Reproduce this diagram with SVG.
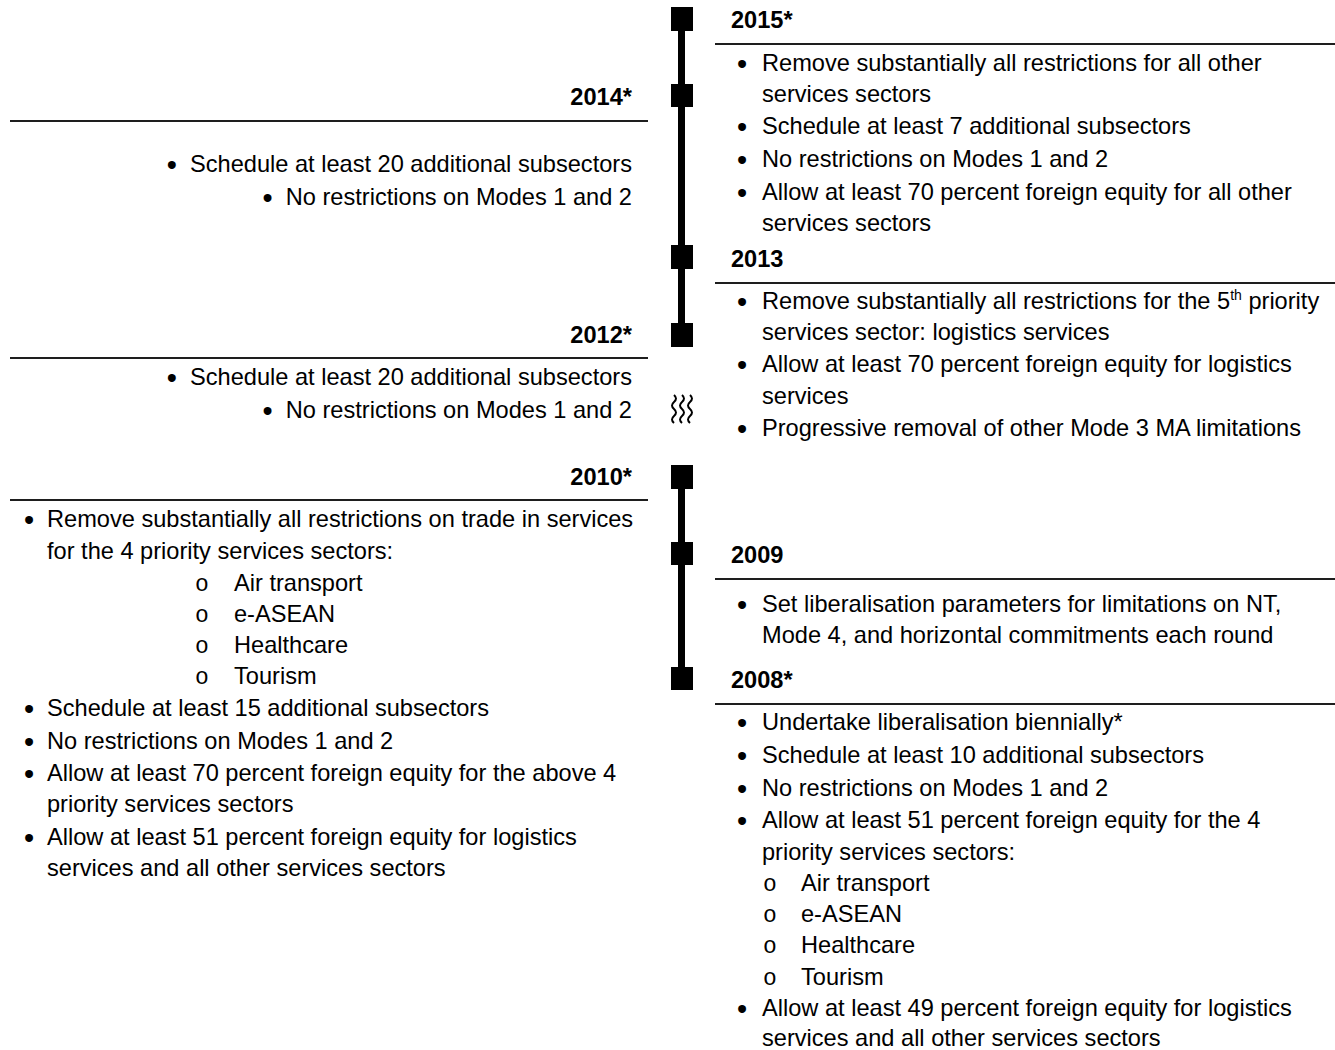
<svg xmlns="http://www.w3.org/2000/svg" width="1335" height="1050" viewBox="0 0 1335 1050">
<style>
.t{font-family:"Liberation Sans",Arial,sans-serif;font-size:23.6px;fill:#000}
.b{font-size:29px}
.y{font-weight:bold}
.e{text-anchor:end}
.o{font-family:"Liberation Mono","Courier New",monospace;font-size:23px;fill:#000}
.rule{stroke:#1e1e1e;stroke-width:2}
.sq{fill:#000}
.bar{stroke:#000;stroke-width:7}
.wave{fill:none;stroke:#000;stroke-width:2}
</style>
<rect width="1335" height="1050" fill="#fff"/>
<g id="connectors">
<line class="bar" x1="681.5" y1="19" x2="681.5" y2="335"/>
<line class="bar" x1="681.5" y1="477" x2="681.5" y2="679"/>
<path class="wave" d="M674,395 q4,3.5 0,7 q-4,3.5 0,7 q4,3.5 0,7 q-4,3.5 0,7"/>
<path class="wave" d="M682,395 q4,3.5 0,7 q-4,3.5 0,7 q4,3.5 0,7 q-4,3.5 0,7"/>
<path class="wave" d="M690,395 q4,3.5 0,7 q-4,3.5 0,7 q4,3.5 0,7 q-4,3.5 0,7"/>
</g>
<g id="markers">
<rect class="sq" x="671" y="7" width="22" height="24"/>
<rect class="sq" x="671" y="84" width="22" height="23"/>
<rect class="sq" x="671" y="245" width="22" height="24"/>
<rect class="sq" x="671" y="323" width="22" height="24"/>
<rect class="sq" x="671" y="465" width="22" height="24"/>
<rect class="sq" x="671" y="542" width="22" height="23"/>
<rect class="sq" x="671" y="667" width="22" height="23"/>
</g>
<g id="y2015">
<text class="t y" x="731" y="28">2015*</text>
<line class="rule" x1="715" y1="44" x2="1335" y2="44"/>
<text class="t" x="737" y="74"><tspan class="b">•</tspan><tspan x="762" dy="-3">Remove substantially all restrictions for all other</tspan></text>
<text class="t" x="762" y="102">services sectors</text>
<text class="t" x="737" y="137"><tspan class="b">•</tspan><tspan x="762" dy="-3">Schedule at least 7 additional subsectors</tspan></text>
<text class="t" x="737" y="170"><tspan class="b">•</tspan><tspan x="762" dy="-3">No restrictions on Modes 1 and 2</tspan></text>
<text class="t" x="737" y="203"><tspan class="b">•</tspan><tspan x="762" dy="-3">Allow at least 70 percent foreign equity for all other</tspan></text>
<text class="t" x="762" y="231">services sectors</text>
</g>
<g id="y2014">
<text class="t y e" x="632" y="105">2014*</text>
<line class="rule" x1="10" y1="121" x2="648" y2="121"/>
<text class="t e" x="632" y="175"><tspan class="b">•</tspan><tspan dx="13" dy="-3">Schedule at least 20 additional subsectors</tspan></text>
<text class="t e" x="632" y="208"><tspan class="b">•</tspan><tspan dx="13" dy="-3">No restrictions on Modes 1 and 2</tspan></text>
</g>
<g id="y2013">
<text class="t y" x="731" y="267">2013</text>
<line class="rule" x1="715" y1="283" x2="1335" y2="283"/>
<text class="t" x="737" y="312"><tspan class="b">•</tspan><tspan x="762" dy="-3">Remove substantially all restrictions for the 5</tspan><tspan font-size="14" dy="-9">th</tspan><tspan dy="9"> priority</tspan></text>
<text class="t" x="762" y="340">services sector: logistics services</text>
<text class="t" x="737" y="375"><tspan class="b">•</tspan><tspan x="762" dy="-3">Allow at least 70 percent foreign equity for logistics</tspan></text>
<text class="t" x="762" y="404">services</text>
<text class="t" x="737" y="439"><tspan class="b">•</tspan><tspan x="762" dy="-3">Progressive removal of other Mode 3 MA limitations</tspan></text>
</g>
<g id="y2012">
<text class="t y e" x="632" y="343">2012*</text>
<line class="rule" x1="10" y1="358" x2="648" y2="358"/>
<text class="t e" x="632" y="388"><tspan class="b">•</tspan><tspan dx="13" dy="-3">Schedule at least 20 additional subsectors</tspan></text>
<text class="t e" x="632" y="421"><tspan class="b">•</tspan><tspan dx="13" dy="-3">No restrictions on Modes 1 and 2</tspan></text>
</g>
<g id="y2010">
<text class="t y e" x="632" y="485">2010*</text>
<line class="rule" x1="10" y1="500" x2="648" y2="500"/>
<text class="t" x="24" y="530"><tspan class="b">•</tspan><tspan x="47" dy="-3">Remove substantially all restrictions on trade in services</tspan></text>
<text class="t" x="47" y="559">for the 4 priority services sectors:</text>
<text class="o" x="195" y="591">o</text><text class="t" x="234" y="591">Air transport</text>
<text class="o" x="195" y="622">o</text><text class="t" x="234" y="622">e-ASEAN</text>
<text class="o" x="195" y="653">o</text><text class="t" x="234" y="653">Healthcare</text>
<text class="o" x="195" y="684">o</text><text class="t" x="234" y="684">Tourism</text>
<text class="t" x="24" y="719"><tspan class="b">•</tspan><tspan x="47" dy="-3">Schedule at least 15 additional subsectors</tspan></text>
<text class="t" x="24" y="752"><tspan class="b">•</tspan><tspan x="47" dy="-3">No restrictions on Modes 1 and 2</tspan></text>
<text class="t" x="24" y="784"><tspan class="b">•</tspan><tspan x="47" dy="-3">Allow at least 70 percent foreign equity for the above 4</tspan></text>
<text class="t" x="47" y="812">priority services sectors</text>
<text class="t" x="24" y="848"><tspan class="b">•</tspan><tspan x="47" dy="-3">Allow at least 51 percent foreign equity for logistics</tspan></text>
<text class="t" x="47" y="876">services and all other services sectors</text>
</g>
<g id="y2009">
<text class="t y" x="731" y="563">2009</text>
<line class="rule" x1="715" y1="579" x2="1335" y2="579"/>
<text class="t" x="737" y="615"><tspan class="b">•</tspan><tspan x="762" dy="-3">Set liberalisation parameters for limitations on NT,</tspan></text>
<text class="t" x="762" y="643">Mode 4, and horizontal commitments each round</text>
</g>
<g id="y2008">
<text class="t y" x="731" y="688">2008*</text>
<line class="rule" x1="715" y1="704" x2="1335" y2="704"/>
<text class="t" x="737" y="733"><tspan class="b">•</tspan><tspan x="762" dy="-3">Undertake liberalisation biennially*</tspan></text>
<text class="t" x="737" y="766"><tspan class="b">•</tspan><tspan x="762" dy="-3">Schedule at least 10 additional subsectors</tspan></text>
<text class="t" x="737" y="799"><tspan class="b">•</tspan><tspan x="762" dy="-3">No restrictions on Modes 1 and 2</tspan></text>
<text class="t" x="737" y="831"><tspan class="b">•</tspan><tspan x="762" dy="-3">Allow at least 51 percent foreign equity for the 4</tspan></text>
<text class="t" x="762" y="860">priority services sectors:</text>
<text class="o" x="763" y="891">o</text><text class="t" x="801" y="891">Air transport</text>
<text class="o" x="763" y="922">o</text><text class="t" x="801" y="922">e-ASEAN</text>
<text class="o" x="763" y="953">o</text><text class="t" x="801" y="953">Healthcare</text>
<text class="o" x="763" y="985">o</text><text class="t" x="801" y="985">Tourism</text>
<text class="t" x="737" y="1019"><tspan class="b">•</tspan><tspan x="762" dy="-3">Allow at least 49 percent foreign equity for logistics</tspan></text>
<text class="t" x="762" y="1046">services and all other services sectors</text>
</g>
</svg>
